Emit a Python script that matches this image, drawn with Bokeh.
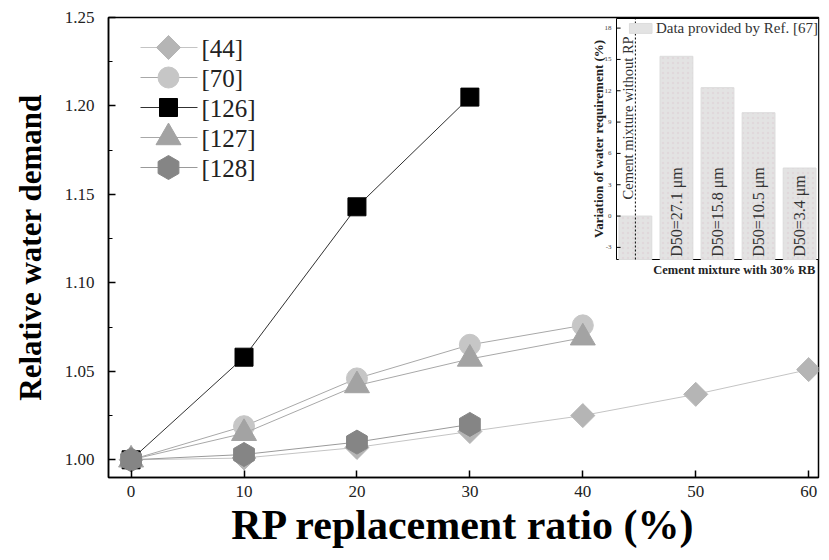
from bokeh.plotting import figure
from bokeh.models import Range1d, FixedTicker, NumeralTickFormatter
from bokeh.embed import file_html
from bokeh.resources import INLINE
from bokeh.core.properties import value
import math

# ---- main chart data ----
x44 = [0, 10, 20, 30, 40, 50, 60]
y44 = [1.000, 1.001, 1.007, 1.016, 1.025, 1.037, 1.051]
x70 = [0, 10, 20, 30, 40]
y70 = [1.000, 1.019, 1.046, 1.065, 1.076]
x126 = [0, 10, 20, 30]
y126 = [1.000, 1.058, 1.143, 1.205]
x127 = [0, 10, 20, 30, 40]
y127 = [1.000, 1.015, 1.042, 1.057, 1.069]
x128 = [0, 10, 20, 30]
y128 = [1.000, 1.003, 1.010, 1.020]
series_names = ["[44]", "[70]", "[126]", "[127]", "[128]"]
x_ticks = [0, 10, 20, 30, 40, 50, 60]
y_ticks = [1.00, 1.05, 1.10, 1.15, 1.20, 1.25]
y_minor = [1.025, 1.075, 1.125, 1.175, 1.225]

# ---- inset data ----
inset_labels = ["Cement mixture without RP", "D50=27.1 μm", "D50=15.8 μm", "D50=10.5 μm", "D50=3.4 μm"]
inset_vals = [0.0, 15.3, 12.3, 9.9, 4.6]
inset_yticks = [-3, 0, 3, 6, 9, 12, 15, 18]

SERIF = value("Liberation Serif")

W, H = 821, 552
# main frame in figure pixels
FL, FR, FT, FB = 108, 818, 17, 477
XR = (-2.0, 60.87)
YR = (0.99, 1.25)

p = figure(width=W, height=H, output_backend="svg", toolbar_location=None,
           x_range=Range1d(*XR), y_range=Range1d(*YR),
           min_border_left=FL, min_border_right=W - FR, min_border_top=FT,
           min_border_bottom=H - FB)
p.grid.visible = False
p.outline_line_color = "black"
p.outline_line_width = 1.5
p.background_fill_color = "white"
p.border_fill_color = "white"

for ax in (p.xaxis[0], p.yaxis[0]):
    ax.axis_line_color = "black"
    ax.axis_line_width = 1.5
    ax.major_tick_in = 7
    ax.major_tick_out = 0
    ax.minor_tick_in = 4
    ax.minor_tick_out = 0
    ax.major_tick_line_color = "black"
    ax.minor_tick_line_color = "black"
    ax.major_tick_line_width = 1.5
    ax.major_label_text_font = "Liberation Serif"
    ax.major_label_text_font_size = "17px"
    ax.major_label_text_color = "#222222"
    ax.axis_label_text_font = "Liberation Serif"
    ax.axis_label_text_font_style = "bold"
    ax.axis_label_text_color = "black"

p.xaxis[0].ticker = FixedTicker(ticks=x_ticks, minor_ticks=[])
p.yaxis[0].ticker = FixedTicker(ticks=y_ticks, minor_ticks=y_minor)
p.yaxis[0].formatter = NumeralTickFormatter(format="0.00")
p.xaxis.axis_label = "RP replacement ratio (%)"
p.yaxis.axis_label = "Relative water demand"
p.xaxis.axis_label_text_font_size = "42px"
p.yaxis.axis_label_text_font_size = "31px"
p.xaxis.major_label_standoff = 8
p.yaxis.major_label_standoff = 14
p.xaxis.axis_label_standoff = 2
p.yaxis.axis_label_standoff = 14

styles = [
    ("square", 17, math.pi / 4, "#b5b5b5", "#c4c4c4"),
    ("circle", 21, 0, "#c6c6c6", "#a8a8a8"),
    ("square", 18, 0, "#000000", "#303030"),
    ("triangle", 25, 0, "#a3a3a3", "#a8a8a8"),
    ("hex", 24, math.pi / 2, "#858585", "#9a9a9a"),
]
data = [(x44, y44), (x70, y70), (x126, y126), (x127, y127), (x128, y128)]
for (xs, ys), (mk, sz, ang, col, lcol) in zip(data, styles):
    p.line(xs, ys, line_color=lcol, line_width=1)
    p.scatter(xs, ys, marker=mk, size=sz, angle=ang, fill_color=col, line_color=col)

# ---- legend drawn in frame pixel space (y down) ----
p.extra_x_ranges = {"lx": Range1d(FL, FR)}
p.extra_y_ranges = {"ly": Range1d(FB, FT)}
L = dict(x_range_name="lx", y_range_name="ly")
for i, (name, (mk, sz, ang, col, lcol)) in enumerate(zip(series_names, styles)):
    yy = 47 + 30 * i
    p.segment(x0=[140], y0=[yy], x1=[197], y1=[yy], line_color=lcol, line_width=1, **L)
    p.scatter(x=[168], y=[yy], marker=mk, size=sz, angle=ang, fill_color=col,
              line_color=col, **L)
    p.text(x=[201], y=[yy + 1], text=[name], text_align="left", text_baseline="middle",
           text_font=SERIF, text_font_size="25px", text_color="#222222", **L)

# ---- inset, drawn in its own coordinates through extra ranges ----
IL, IR, IT, IB = 616, 818, 18, 259
IX = (-0.46, 4.46)
IY = (-4.16, 18.92)
kx = (IX[1] - IX[0]) / ((IR - IL) / (FR - FL))
x0 = IX[0] - kx * (IL - FL) / (FR - FL)
ky = (IY[1] - IY[0]) / ((IB - IT) / (FB - FT))
y0 = IY[0] - ky * (FB - IB) / (FB - FT)
p.extra_x_ranges["ix"] = Range1d(x0, x0 + kx)
p.extra_y_ranges["iy"] = Range1d(y0, y0 + ky)
R = dict(x_range_name="ix", y_range_name="iy")

p.quad(left=[IX[0]], right=[IX[1]], bottom=[IY[0]], top=[IY[1]],
       fill_color="white", line_color="black", line_width=1, **R)
xs_i = list(range(len(inset_vals)))
p.vbar(x=xs_i, top=inset_vals, bottom=IY[0], width=0.8,
       fill_color="#e3e3e3", line_color="#dcdcdc", hatch_pattern=".",
       hatch_color="#d9b8c4", hatch_alpha=0.25, hatch_scale=5, **R)
p.segment(x0=[0], y0=[IY[0]], x1=[0], y1=[IY[1]], line_color="black",
          line_dash="2 2", line_width=1, **R)
# inset y ticks + labels
p.segment(x0=[IX[0]] * len(inset_yticks), y0=inset_yticks,
          x1=[IX[0] + 0.1] * len(inset_yticks), y1=inset_yticks,
          line_color="black", line_width=1, **R)
p.text(x=[IX[0] - 0.12] * len(inset_yticks), y=inset_yticks,
       text=[str(t) for t in inset_yticks], text_align="right",
       text_baseline="middle", text_font=SERIF, text_font_size="7px",
       text_color="#444444", **R)
# inset category labels
p.text(x=[-0.19], y=[9.4], text=[inset_labels[0]], angle=math.pi / 2,
       text_align="center", text_baseline="middle", text_font=SERIF,
       text_font_size="14.5px", text_color="#333333", **R)
p.text(x=xs_i[1:], y=[-3.9] * 4, text=inset_labels[1:], angle=math.pi / 2,
       text_align="left", text_baseline="middle", text_font=SERIF,
       text_font_size="16px", text_color="#333333", **R)
# inset legend
p.rect(x=[0.13], y=[17.97], width=0.55, height=0.95, fill_color="#e3e3e3",
       line_color="#dcdcdc", **R)
p.text(x=[0.5], y=[17.97], text=["Data provided by Ref. [67]"], text_align="left",
       text_baseline="middle", text_font=SERIF, text_font_size="15px",
       text_color="#333333", **R)
# inset axis titles
p.text(x=[-0.89], y=[7.4], text=["Variation of water requirement (%)"],
       angle=math.pi / 2, text_align="center", text_baseline="middle",
       text_font=SERIF, text_font_style="bold", text_font_size="13px",
       text_color="#222222", **R)
p.text(x=[2.41], y=[-5.2], text=["Cement mixture with 30% RB"],
       text_align="center", text_baseline="middle", text_font=SERIF,
       text_font_style="bold", text_font_size="12.5px", text_color="#222222", **R)

open("out.html", "w").write(file_html(p, INLINE))
